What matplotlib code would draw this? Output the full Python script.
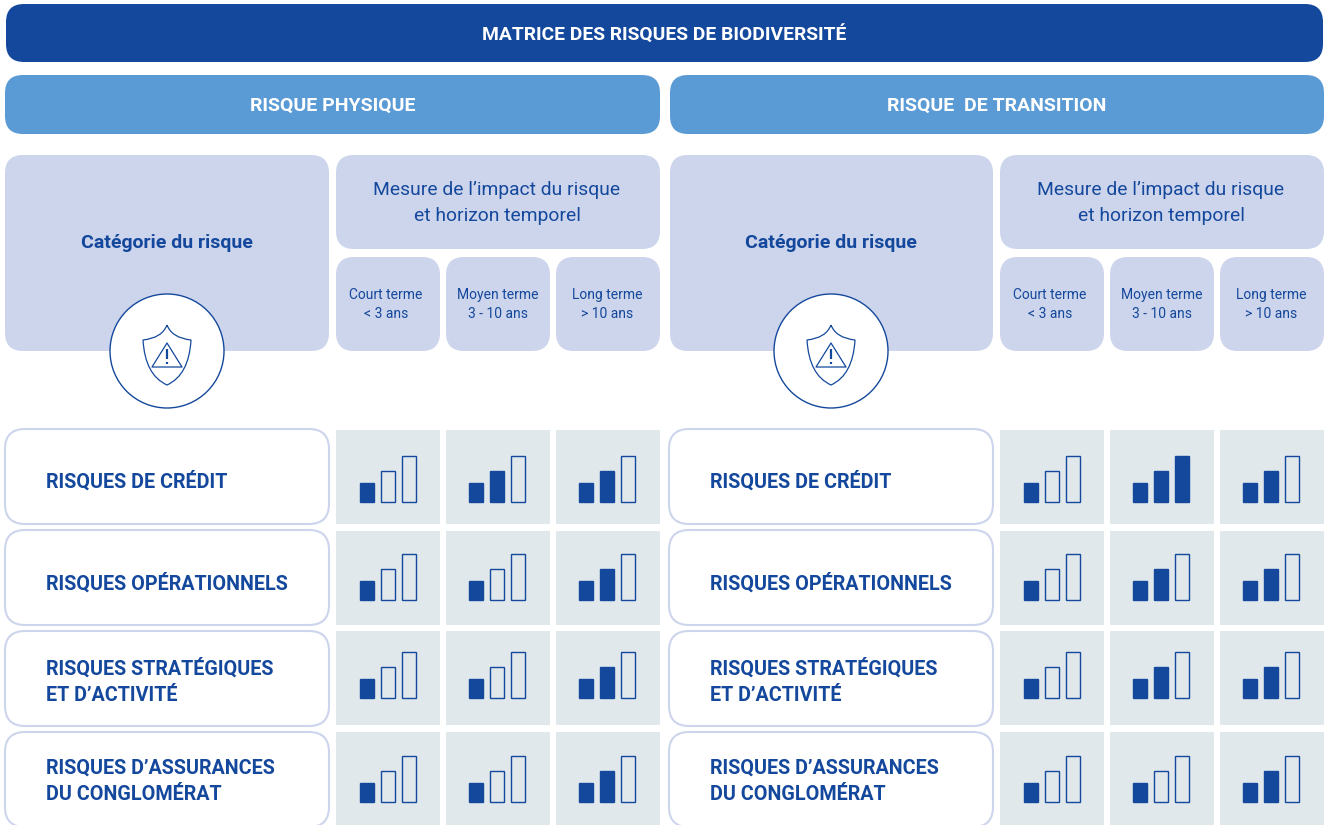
import matplotlib
matplotlib.use('Agg')
import matplotlib.pyplot as plt
from matplotlib.patches import FancyBboxPatch, Circle, Polygon, Rectangle, PathPatch
from matplotlib.path import Path

# Chart data
title = "MATRICE DES RISQUES DE BIODIVERSITÉ"
panels = ["RISQUE PHYSIQUE", "RISQUE  DE TRANSITION"]
category_header = "Catégorie du risque"
measure_header = "Mesure de l’impact du risque\net horizon temporel"
horizons = ["Court terme\n< 3 ans", "Moyen terme\n3 - 10 ans", "Long terme\n> 10 ans"]
risks = ["RISQUES DE CRÉDIT", "RISQUES OPÉRATIONNELS",
         "RISQUES STRATÉGIQUES\nET D’ACTIVITÉ", "RISQUES D’ASSURANCES\nDU CONGLOMÉRAT"]
# number of filled bars per risk (rows) and horizon (columns)
levels_physical = [[1, 2, 2], [1, 1, 2], [1, 1, 2], [1, 1, 2]]
levels_transition = [[1, 3, 2], [1, 2, 2], [1, 2, 2], [1, 1, 2]]

DARK = '#14489c'
MID = '#5b9bd5'
PALE = '#cdd5ec'
CELL = '#e1e8ec'
FONT = ['Roboto', 'DejaVu Sans']

fig = plt.figure(figsize=(13.27, 8.25), dpi=100)
ax = fig.add_axes([0, 0, 1, 1])
ax.set_xlim(0, 1327)
ax.set_ylim(825, 0)
ax.axis('off')


def box(x0, y0, x1, y1, color, radius=18, edge='none', lw=0):
    ax.add_patch(FancyBboxPatch((x0, y0), x1 - x0, y1 - y0,
                                boxstyle=f'round,pad=0,rounding_size={radius}',
                                fc=color, ec=edge, lw=lw))


def label(x, y, s, size, color=DARK, weight='normal', ha='center', spacing=1.2):
    ax.text(x, y, s, fontsize=size, color=color, fontweight=weight, ha=ha, va='center',
            family=FONT, linespacing=spacing)


def shield(cx):
    # warning icon in the circle
    ax.add_patch(Circle((cx, 351), 57, fc='white', ec=DARK, lw=1.0, zorder=3))
    verts = [(cx, 325), (cx + 5, 338), (cx + 24, 340),
             (cx + 22, 375), (cx, 385),
             (cx - 22, 375), (cx - 24, 340),
             (cx - 5, 338), (cx, 325)]
    codes = [Path.MOVETO, Path.CURVE3, Path.CURVE3, Path.CURVE3, Path.CURVE3,
             Path.CURVE3, Path.CURVE3, Path.CURVE3, Path.CURVE3]
    ax.add_patch(PathPatch(Path(verts, codes), fc='none', ec=DARK, lw=0.9, zorder=4))
    ax.add_patch(Polygon([(cx, 343), (cx + 15, 367), (cx - 15, 367)], closed=True,
                         fc='none', ec=DARK, lw=0.9, joinstyle='round', zorder=4))
    ax.plot([cx, cx], [349, 359], color=DARK, lw=1.6, zorder=4, solid_capstyle='butt')
    ax.plot([cx, cx], [362, 364], color=DARK, lw=1.6, zorder=4, solid_capstyle='butt')


# top banner
box(6, 4, 1323, 62, DARK)
label(664.5, 35.5, title, 13.9, 'white', 'bold')

cell_x = [336, 446, 556]
cell_tops = [430, 531, 631, 732]
cell_bottoms = [524, 625, 725, 826]
box_tops = [429, 530, 631, 732]
box_bottoms = [524, 625, 726, 827]
risk_y = [481, 583, 681.5, 781.5]
baselines = [502, 600, 698, 802]
bar_heights = [19, 31, 46]
bar_offsets = [24, 45, 66]
column_shift = [0, -1, -1]
horizon_shift = [50, 51.5, 51.5]

for p, levels in enumerate([levels_physical, levels_transition]):
    dx = 664 * p
    left = 5 + dx + p
    box(left, 75, 660 + dx, 134, MID)
    label(332.5 + dx, 106, panels[p], 14, 'white', 'bold')

    box(left, 155, 329 + dx, 351, PALE)
    label(167 + dx, 243, category_header, 14, DARK, 'bold')
    shield(167 + dx)

    box(336 + dx, 155, 660 + dx, 249, PALE)
    label(497 + dx, 203, measure_header, 13.9, spacing=1.6)
    for c, h in enumerate(horizons):
        box(cell_x[c] + dx, 257, cell_x[c] + 104 + dx, 351, PALE)
        label(cell_x[c] + horizon_shift[c] + dx, 304.5, h, 10, spacing=1.47)

    for r, risk in enumerate(risks):
        box(5 + dx, box_tops[r], 329 + dx, box_bottoms[r], 'white', 20, PALE, 1.5)
        label(46 + dx, risk_y[r], risk, 14.2, DARK, 'bold', ha='left', spacing=1.5)
        for c in range(3):
            ax.add_patch(Rectangle((cell_x[c] + dx, cell_tops[r]), 104,
                                   cell_bottoms[r] - cell_tops[r], fc=CELL, ec='none'))
            for b in range(3):
                filled = b < levels[r][c]
                ax.bar(cell_x[c] + dx + column_shift[c] + bar_offsets[b], -bar_heights[b],
                       width=14, bottom=baselines[r], align='edge',
                       color=DARK if filled else 'none', edgecolor=DARK, linewidth=1.0)

fig.savefig('out.png', dpi=100)
